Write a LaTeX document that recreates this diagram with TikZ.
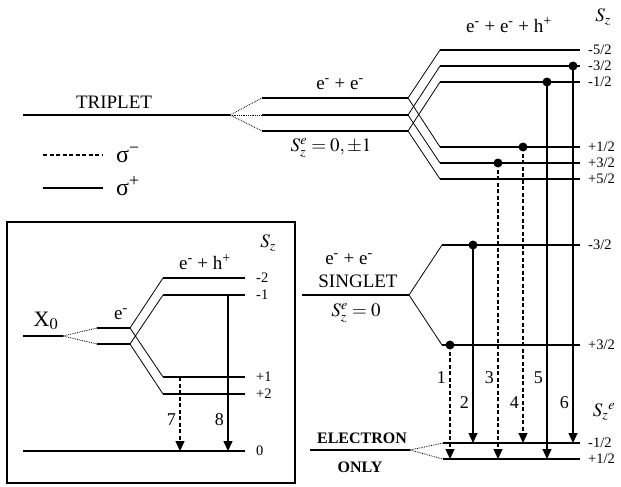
\documentclass[tikz,border=0pt]{standalone}
\usepackage{mathptmx}
\usepackage[no-math]{fontspec}
\setmainfont{Liberation Serif}
\usetikzlibrary{arrows.meta}

\newcommand{\elm}{e\textsuperscript{-}}
\newcommand{\hlp}{h\textsuperscript{+}}

\begin{document}
\begin{tikzpicture}[x=1pt, y=-1pt,
  lvl/.style={line width=2.4pt},
  link/.style={line width=0.8pt},
  split/.style={line width=0.8pt, densely dotted},
  emit/.style={line width=1.3pt, -{Triangle[length=10pt,width=9pt]}},
  dsh/.style={emit, dash pattern=on 4pt off 2.5pt},
  lab/.style={font=\fontsize{19}{21}\selectfont, inner sep=0pt},
  bold/.style={font=\fontsize{16}{18}\selectfont\bfseries, inner sep=0pt},
  sz/.style={font=\fontsize{14.5}{16}\selectfont, anchor=west, inner sep=0pt},
  num/.style={font=\fontsize{18}{20}\selectfont, anchor=east, inner sep=0pt},
  dot/.style={circle, fill, inner sep=0pt, minimum size=9pt}
]
  \useasboundingbox (0,0) rectangle (621,487);

  % triplet and its splitting
  \draw[lvl] (23,115) coordinate (tA) -- (230,115) coordinate (tB);
  \node[lab] (trip) at (114,102) {TRIPLET};
  \foreach \i/\y in {1/98, 2/115, 3/131} {
    \draw[lvl] (262,\y) coordinate (ee\i L) -- (408,\y) coordinate (ee\i R);
    \draw[split] (tB) -- (ee\i L);
  }
  \node[lab] (eeT) at (340,84) {\elm{} + \elm};
  \node[lab] (szT) at (331,148) {$S_z^e = 0, \pm 1$};

  % e- + e- + h+ levels
  \foreach \n/\y/\s in {u1/50/{-5/2}, u2/66/{-3/2}, u3/82/{-1/2},
                        d1/147/{+1/2}, d2/163/{+3/2}, d3/179/{+5/2}} {
    \draw[lvl] (440,\y) coordinate (\n L) -- (580,\y) coordinate (\n R);
    \node[sz] (\n S) at (588,\y) {\s};
  }
  \foreach \i in {1,2,3} {
    \draw[link] (ee\i R) -- (u\i L);
    \draw[link] (ee\i R) -- (d\i L);
  }
  \node[lab] (eehT) at (509,25) {\elm{} + \elm{} + \hlp};
  \node[lab] (szTop) at (603,17) {$S_z$};

  % legend
  \draw[line width=1.3pt, dash pattern=on 4pt off 2.5pt] (43,155) coordinate (lgA) -- (103,155) coordinate (lgB);
  \draw[line width=1.3pt] (43,188) coordinate (lgC) -- (103,188) coordinate (lgD);
  \node[lab, anchor=west, font=\fontsize{24}{26}\selectfont] (sgm) at (116,155) {σ\textsuperscript{−}};
  \node[lab, anchor=west, font=\fontsize{24}{26}\selectfont] (sgp) at (116,186) {σ\textsuperscript{+}};

  % singlet
  \draw[lvl] (302,295) coordinate (sA) -- (409,295) coordinate (sB);
  \draw[lvl] (442,245) coordinate (sUL) -- (580,245) coordinate (sUR);
  \draw[lvl] (442,345) coordinate (sDL) -- (580,345) coordinate (sDR);
  \draw[link] (sB) -- (sUL);
  \draw[link] (sB) -- (sDL);
  \node[sz] (sUS) at (588,245) {-3/2};
  \node[sz] (sDS) at (588,345) {+3/2};
  \node[lab] (eeS) at (349,259) {\elm{} + \elm};
  \node[lab] (sing) at (358,281) {SINGLET};
  \node[lab] (szS) at (356,313) {$S_z^e = 0$};

  % electron only
  \draw[lvl] (310,450) coordinate (eA) -- (410,450) coordinate (eB);
  \draw[lvl] (443,443) coordinate (eUL) -- (580,443) coordinate (eUR);
  \draw[lvl] (443,459) coordinate (eDL) -- (580,459) coordinate (eDR);
  \draw[split] (eB) -- (eUL);
  \draw[split] (eB) -- (eDL);
  \node[bold] (elec) at (362,438) {ELECTRON};
  \node[bold] (only) at (360,467) {ONLY};
  \node[sz] (eUS) at (588,443) {-1/2};
  \node[sz] (eDS) at (588,459) {+1/2};
  \node[lab] (szE) at (604,412) {$S_z{}^e$};

  % transitions
  \foreach \k/\x/\ys/\ye/\sty/\yl in {1/450/345/459/dsh/378, 2/473/245/443/emit/403,
      3/498/163/459/dsh/378, 4/523/147/443/dsh/403,
      5/547/82/459/emit/378, 6/573/66/443/emit/403} {
    \coordinate (q\k) at (\x,\ye);
    \node[dot] (p\k) at (\x,\ys) {};
    \draw[\sty] (p\k.center) -- (q\k);
    \node[num] (n\k) at (\x-4,\yl) {\k};
  }

  % inset: X0
  \draw[line width=1.3pt] (7,222) rectangle (295,483);
  \draw[lvl] (23,336) coordinate (xA) -- (63,336) coordinate (xB);
  \node[lab, font=\fontsize{22}{24}\selectfont] (xo) at (46,321) {X$_0$};
  \foreach \i/\y in {1/328, 2/344} {
    \draw[lvl] (97,\y) coordinate (h\i L) -- (130,\y) coordinate (h\i R);
    \draw[split] (xB) -- (h\i L);
  }
  \node[lab] (eI) at (121,314) {\elm};
  \foreach \n/\y/\s in {a1/278/-2, a2/295/-1, b1/377/+1, b2/394/+2} {
    \draw[lvl] (163,\y) coordinate (\n L) -- (245,\y) coordinate (\n R);
    \node[sz] (\n S) at (256,\y) {\s};
  }
  \foreach \i in {1,2} {
    \draw[link] (h\i R) -- (a\i L);
    \draw[link] (h\i R) -- (b\i L);
  }
  \draw[lvl] (23,451) coordinate (gL) -- (245,451) coordinate (gR);
  \node[sz] (gS) at (256,451) {0};
  \node[lab] (ehI) at (205,262) {\elm{} + \hlp};
  \node[lab] (szI) at (268,243) {$S_z$};
  \coordinate (q7) at (180,451);
  \coordinate (q8) at (228,451);
  \coordinate (p7) at (180,377);
  \coordinate (p8) at (228,295);
  \draw[dsh] (p7) -- (q7);
  \draw[emit] (p8) -- (q8);
  \node[num] (n7) at (176,420) {7};
  \node[num] (n8) at (224,420) {8};
\end{tikzpicture}
\end{document}
